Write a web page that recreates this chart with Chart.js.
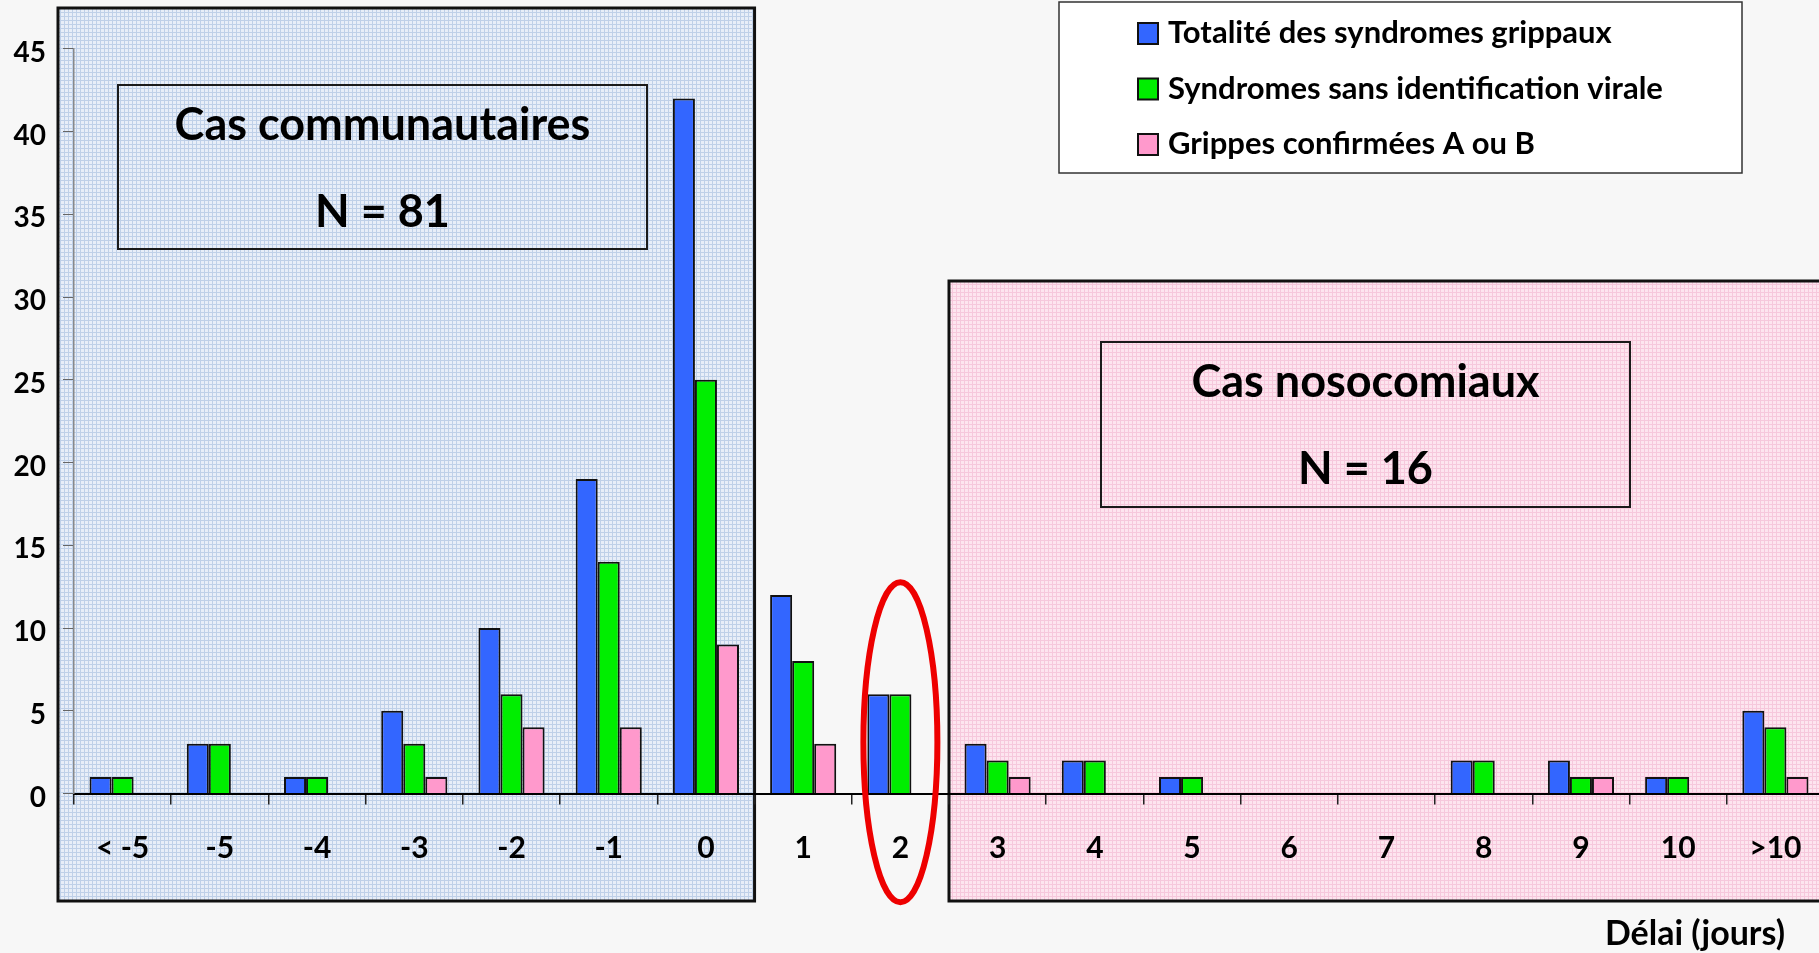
<!DOCTYPE html>
<html>
<head>
<meta charset="utf-8">
<script src="https://cdn.jsdelivr.net/npm/chart.js@4/dist/chart.umd.min.js"></script>
<style>
    html, body { margin: 0; padding: 0; overflow: hidden; background: #f7f7f7; }
    #wrap { position: absolute; left: 0; top: 0; width: 1830px; height: 953px; }
</style>
</head>
<body>
<div id="wrap"><canvas id="delaiChart"></canvas></div>
<script>
// Délai (jours) par catégorie
const categories = ['< -5', '-5', '-4', '-3', '-2', '-1', '0', '1', '2', '3', '4', '5', '6', '7', '8', '9', '10', '>10'];
const seriesLabels = ['Totalité des syndromes grippaux', 'Syndromes sans identification virale', 'Grippes confirmées A ou B'];
const totalite = [1, 3, 1, 5, 10, 19, 42, 12, 6, 3, 2, 1, 0, 0, 2, 2, 1, 5];
const sansIdentification = [1, 3, 1, 3, 6, 14, 25, 8, 6, 2, 2, 1, 0, 0, 2, 1, 1, 4];
const grippesConfirmees = [0, 0, 0, 1, 4, 4, 9, 3, 0, 1, 0, 0, 0, 0, 0, 1, 0, 1];
const yMin = 0, yMax = 45, yStep = 5;

const colors = ['#3366ff', '#00ee00', '#ff99cc'];
const FONT = 'Lato, "Open Sans", sans-serif';

function makePattern(ctx, base, line) {
    const c = document.createElement('canvas');
    c.width = 4; c.height = 4;
    const g = c.getContext('2d');
    g.fillStyle = base;
    g.fillRect(0, 0, 4, 4);
    g.fillStyle = line;
    g.fillRect(0, 0, 4, 1);
    g.fillRect(0, 0, 1, 4);
    return ctx.createPattern(c, 'repeat');
}

function textBox(ctx, x1, y1, x2, y2, lines) {
    ctx.save();
    ctx.strokeStyle = '#1a1a1a';
    ctx.lineWidth = 2;
    ctx.strokeRect(x1, y1, x2 - x1, y2 - y1);
    ctx.fillStyle = '#000';
    ctx.font = 'bold 45px ' + FONT;
    ctx.textAlign = 'center';
    ctx.textBaseline = 'middle';
    const cx = (x1 + x2) / 2;
    ctx.fillText(lines[0], cx, y1 + 40);
    ctx.fillText(lines[1], cx, y1 + 127);
    ctx.restore();
}

const decorPlugin = {
    id: 'decor',
    beforeDraw(chart) {
        const ctx = chart.ctx;
        const x = chart.scales.x;
        const cw = x.width / categories.length;
        const boundary = i => x.left + i * cw;
        ctx.save();
        ctx.fillStyle = '#f7f7f7';
        ctx.fillRect(0, 0, chart.width, chart.height);

        // Cas communautaires
        ctx.fillStyle = makePattern(ctx, '#e8eef8', '#bfd0e8');
        ctx.fillRect(58, 8, boundary(7) - 58, 893);
        ctx.strokeStyle = '#111';
        ctx.lineWidth = 3;
        ctx.strokeRect(58, 8, boundary(7) - 58, 893);

        // Cas nosocomiaux
        const px = boundary(9);
        ctx.fillStyle = makePattern(ctx, '#fde5ef', '#f6c8dc');
        ctx.fillRect(px, 281, chart.width - px + 10, 620);
        ctx.strokeRect(px, 281, chart.width - px + 10, 620);
        ctx.restore();

        textBox(ctx, 118, 85, 647, 249, ['Cas communautaires', 'N = 81']);
        textBox(ctx, 1101, 342, 1630, 507, ['Cas nosocomiaux', 'N = 16']);

        // Légende
        ctx.save();
        ctx.fillStyle = '#ffffff';
        ctx.fillRect(1059, 2, 683, 171);
        ctx.strokeStyle = '#333';
        ctx.lineWidth = 1.5;
        ctx.strokeRect(1059, 2, 683, 171);
        ctx.font = 'bold 31px ' + FONT;
        ctx.textBaseline = 'middle';
        ctx.textAlign = 'left';
        chart.data.datasets.forEach((ds, i) => {
            const cy = 33 + i * 55.5;
            ctx.fillStyle = ds.backgroundColor;
            ctx.fillRect(1138, cy - 10, 20, 21);
            ctx.strokeStyle = '#111';
            ctx.lineWidth = 2;
            ctx.strokeRect(1138, cy - 10, 20, 21);
            ctx.fillStyle = '#000';
            ctx.fillText(ds.label, 1168, cy);
        });

        // Titre de l'axe
        ctx.font = 'bold 34px ' + FONT;
        ctx.textAlign = 'right';
        ctx.fillText('Délai (jours)', 1785, 934);
        ctx.restore();
    },
    afterDatasetsDraw(chart) {
        const ctx = chart.ctx;
        const x = chart.scales.x;
        const y = chart.scales.y;
        ctx.save();
        ctx.strokeStyle = '#ee0000';
        ctx.lineWidth = 6;
        ctx.beginPath();
        ctx.ellipse(x.getPixelForValue(8), y.getPixelForValue(3.1), 37, 160, 0, 0, Math.PI * 2);
        ctx.stroke();
        ctx.restore();
    }
};

document.addEventListener('DOMContentLoaded', function() {
    const ctx = document.getElementById('delaiChart').getContext('2d');
    const datasetsData = [totalite, sansIdentification, grippesConfirmees];

    new Chart(ctx, {
        type: 'bar',
        data: {
            labels: categories,
            datasets: datasetsData.map((d, i) => ({
                label: seriesLabels[i],
                data: d,
                backgroundColor: colors[i],
                borderColor: '#111',
                borderWidth: 2,
                categoryPercentage: 0.68,
                barPercentage: 1.0
            }))
        },
        options: {
            responsive: true,
            maintainAspectRatio: false,
            devicePixelRatio: 1,
            animation: false,
            layout: {
                padding: { top: 48.8, right: 6, left: 0, bottom: 0 }
            },
            plugins: {
                legend: { display: false },
                tooltip: { enabled: false }
            },
            scales: {
                x: {
                    grid: {
                        drawOnChartArea: false,
                        drawTicks: true,
                        tickLength: 11,
                        color: '#222',
                        lineWidth: 1.5
                    },
                    border: { color: '#000', width: 2 },
                    ticks: {
                        color: '#000',
                        font: { family: FONT, size: 30, weight: 'bold' },
                        padding: 26,
                        maxRotation: 0,
                        autoSkip: false
                    },
                    afterFit(scale) { scale.height = 159.5; }
                },
                y: {
                    min: yMin,
                    max: yMax,
                    grid: {
                        drawOnChartArea: false,
                        drawTicks: true,
                        tickLength: 11,
                        color: '#666',
                        lineWidth: 1
                    },
                    border: { color: '#888', width: 1.5 },
                    ticks: {
                        stepSize: yStep,
                        color: '#000',
                        font: { family: FONT, size: 28, weight: 'bold' },
                        padding: 17,
                        labelOffset: 4
                    },
                    afterFit(scale) { scale.width = 74; }
                }
            }
        },
        plugins: [decorPlugin]
    });
});
</script>
</body>
</html>
